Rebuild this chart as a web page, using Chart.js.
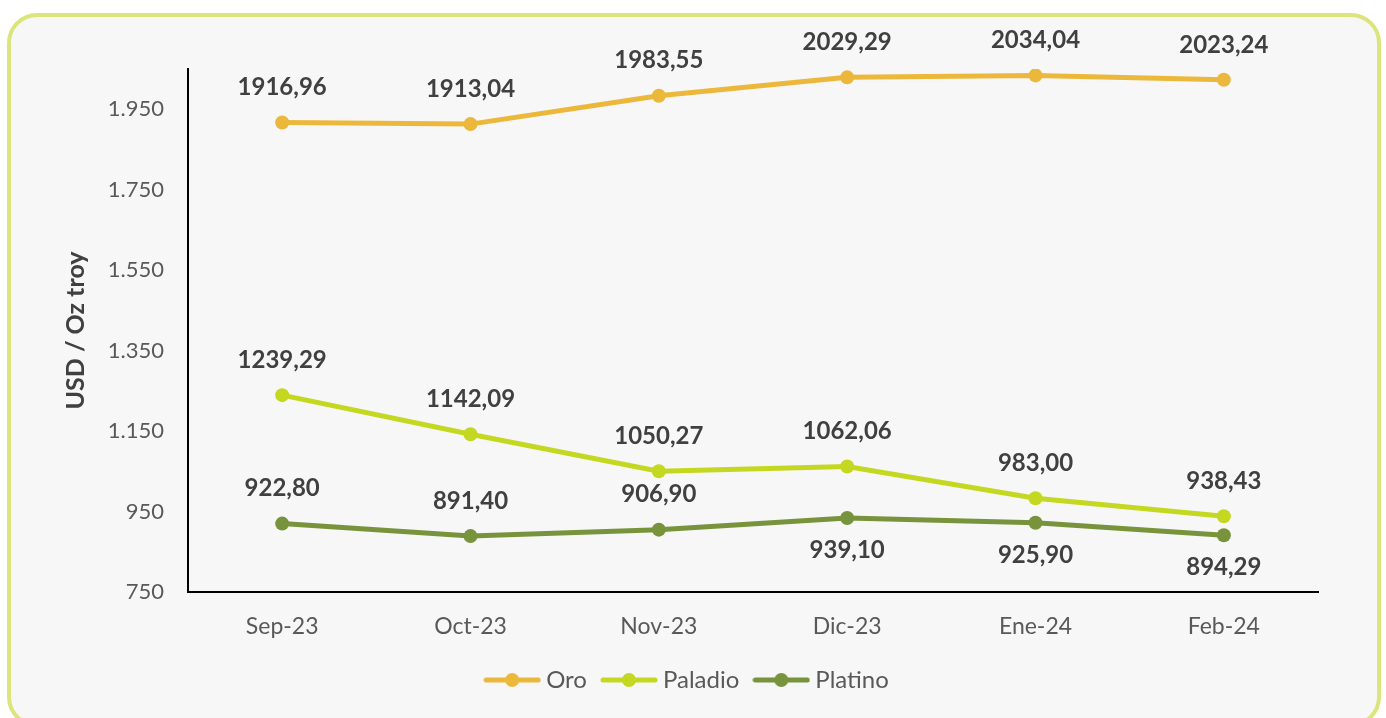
<!DOCTYPE html>
<html>
<head>
<meta charset="utf-8">
<script src="https://cdn.jsdelivr.net/npm/chart.js@4"></script>
<style>
  html, body { margin: 0; padding: 0; background: #ffffff; }
  #card {
    position: absolute; left: 7px; top: 13px;
    width: 1366px; height: 706px;
    border: 4px solid #dbe57c; border-radius: 30px;
    background: #f7f7f7; overflow: hidden;
  }
  #chart { display: block; }
</style>
</head>
<body>
<div id="card"><canvas id="chart" width="1366" height="706"></canvas></div>
<script>
const months = ['Sep-23', 'Oct-23', 'Nov-23', 'Dic-23', 'Ene-24', 'Feb-24'];
const oro = [1916.96, 1913.04, 1983.55, 2029.29, 2034.04, 2023.24];
const paladio = [1239.29, 1142.09, 1050.27, 1062.06, 983.00, 938.43];
const platino = [922.80, 891.40, 906.90, 939.10, 925.90, 894.29];
// points actually plotted for platino sit a little below the printed values
const platinoPlot = [920, 889, 905, 934, 922, 891];
const yTicks = [750, 950, 1150, 1350, 1550, 1750, 1950];

const FONT = 'Lato, "Open Sans", sans-serif';

function fmtLabel(v) {
    return v.toFixed(2).replace('.', ',');
}
function fmtTick(v) {
    return String(v).replace(/\B(?=(\d{3})+(?!\d))/g, '.');
}

function legendIcon(color) {
    const c = document.createElement('canvas');
    c.width = 58; c.height = 16;
    const g = c.getContext('2d');
    g.strokeStyle = color;
    g.lineWidth = 5;
    g.lineCap = 'round';
    g.beginPath(); g.moveTo(3, 8); g.lineTo(55, 8); g.stroke();
    g.fillStyle = color;
    g.beginPath(); g.arc(29, 8, 7, 0, Math.PI * 2); g.fill();
    return c;
}

const valueLabels = {
    id: 'valueLabels',
    afterDatasetsDraw(chart) {
        const ctx = chart.ctx;
        ctx.save();
        ctx.font = 'bold 24px ' + FONT;
        ctx.fillStyle = '#404040';
        ctx.textAlign = 'center';
        ctx.textBaseline = 'middle';
        chart.data.datasets.forEach((ds, i) => {
            chart.getDatasetMeta(i).data.forEach((pt, j) => {
                const below = ds.labelBelow && ds.labelBelow[j];
                const y = below ? pt.y + 32 : pt.y - 35;
                ctx.fillText(fmtLabel(ds.labels[j]), pt.x, y);
            });
        });
        ctx.restore();
    }
};

function series(label, color, plot, shown, below) {
    return {
        label: label,
        data: plot,
        labels: shown,
        labelBelow: below,
        borderColor: color,
        backgroundColor: color,
        borderWidth: 5,
        pointRadius: 7,
        pointHoverRadius: 7,
        pointBorderWidth: 0,
        tension: 0
    };
}

new Chart(document.getElementById('chart').getContext('2d'), {
    type: 'line',
    data: {
        labels: months,
        datasets: [
            series('Oro', '#ecb83c', oro, oro, null),
            series('Paladio', '#c4d821', paladio, paladio, null),
            series('Platino', '#77933c', platinoPlot, platino, [false, false, false, true, true, true])
        ]
    },
    options: {
        responsive: false,
        animation: false,
        layout: { padding: { left: 50, right: 59, top: 52, bottom: 21 } },
        scales: {
            x: {
                offset: true,
                grid: { display: false, drawTicks: false },
                border: { display: true, color: '#000000', width: 2 },
                ticks: { color: '#595959', font: { family: FONT, size: 23 }, padding: 21 },
                afterFit(scale) { scale.height = 56; }
            },
            y: {
                min: 750,
                max: 2050,
                afterBuildTicks(scale) { scale.ticks = yTicks.map(v => ({ value: v })); },
                grid: { display: false, drawTicks: false },
                border: { display: true, color: '#000000', width: 2 },
                ticks: {
                    color: '#595959',
                    font: { family: FONT, size: 22 },
                    padding: 24,
                    callback: v => fmtTick(v)
                },
                title: {
                    display: true,
                    text: 'USD / Oz troy',
                    color: '#404040',
                    font: { family: FONT, size: 25, weight: 'bold' },
                    padding: 0
                },
                afterFit(scale) { scale.width = 127; }
            }
        },
        plugins: {
            tooltip: { enabled: false },
            legend: {
                position: 'bottom',
                labels: {
                    usePointStyle: true,
                    pointStyleWidth: 44,
                    padding: 20,
                    color: '#595959',
                    font: { family: FONT, size: 24 },
                    generateLabels(chart) {
                        return chart.data.datasets.map((ds, i) => ({
                            text: ds.label,
                            pointStyle: legendIcon(ds.borderColor),
                            fillStyle: ds.borderColor,
                            strokeStyle: ds.borderColor,
                            lineWidth: 0,
                            fontColor: '#595959',
                            hidden: false,
                            datasetIndex: i
                        }));
                    }
                }
            }
        }
    },
    plugins: [valueLabels]
});
</script>
</body>
</html>
